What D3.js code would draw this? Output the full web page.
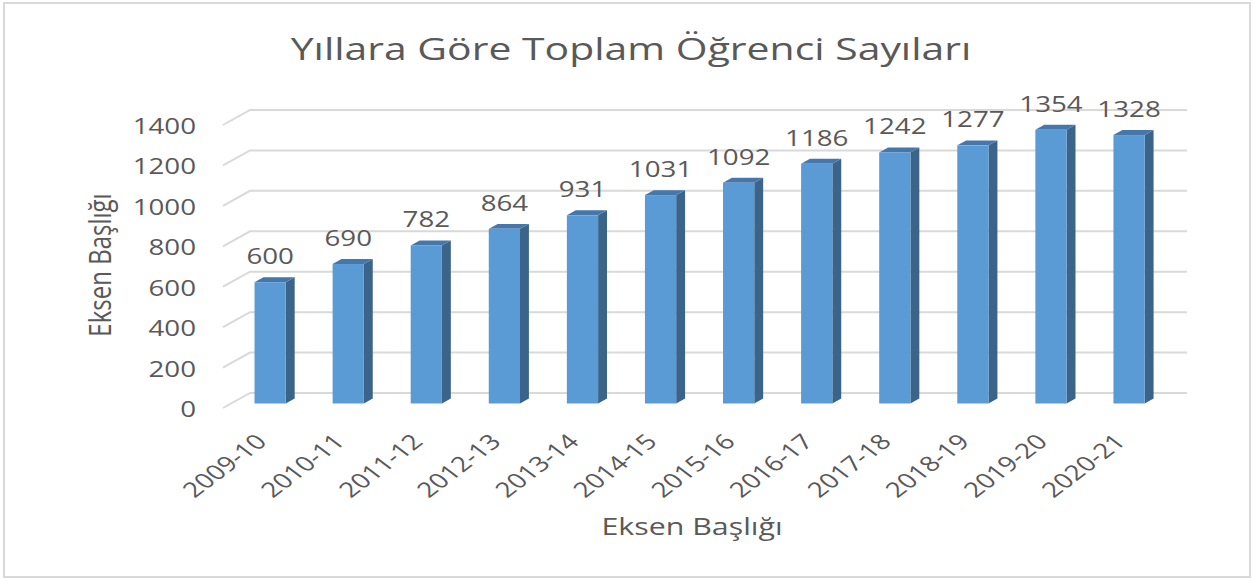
<!DOCTYPE html>
<html>
<head>
<meta charset="utf-8">
<script src="https://cdn.jsdelivr.net/npm/d3@7"></script>
<style>
  html, body { margin: 0; padding: 0; background: #fff; }
  svg text { font-family: "Open Sans", "Noto Sans", sans-serif; fill: #595959; }
</style>
</head>
<body>
<div id="chart"></div>
<script>
var years = ["2009-10", "2010-11", "2011-12", "2012-13", "2013-14", "2014-15",
  "2015-16", "2016-17", "2017-18", "2018-19", "2019-20", "2020-21"];
var students = [600, 690, 782, 864, 931, 1031, 1092, 1186, 1242, 1277, 1354, 1328];
var yTicks = [0, 200, 400, 600, 800, 1000, 1200, 1400];

var chartTitle = "Yıllara Göre Toplam Öğrenci Sayıları",
  axisTitle = "Eksen Başlığı";

var width = 1256,
  height = 579,
  sx = 1.32; // the picture is stretched sideways, text too

// back wall of the 3d box
var wall = {left: 250, right: 1187, bottom: 393, top: 110};
// full depth of the floor, and where the bars sit in it
var depth = {dx: -27, dy: 15},
  barFront = 0.7,
  barBack = 0.37;

var svg = d3.select("#chart").append("svg")
  .attr("width", width)
  .attr("height", height);

svg.append("rect")
  .attr("x", 4).attr("y", 3)
  .attr("width", 1246).attr("height", 574)
  .attr("fill", "#fff")
  .attr("stroke", "#d9d9d9")
  .attr("stroke-width", 2);

var x = d3.scaleBand()
  .domain(years)
  .range([wall.left, wall.right])
  .paddingInner(0.6)
  .paddingOuter(0.3);

var y = d3.scaleLinear()
  .domain([0, 1400])
  .range([wall.bottom, wall.top]);

// gridlines: back wall + the slanted floor edge
var grid = svg.append("g");
grid.selectAll("path")
  .data(yTicks)
  .enter().append("path")
  .attr("fill", "none")
  .attr("stroke", "#d9d9d9")
  .attr("stroke-width", 2)
  .attr("d", function (d) {
    return "M" + (wall.left + depth.dx) + "," + (y(d) + depth.dy) +
      "L" + wall.left + "," + y(d) + "H" + wall.right;
  });

// y tick labels
svg.append("g").selectAll("text")
  .data(yTicks)
  .enter().append("text")
  .attr("text-anchor", "end")
  .attr("font-size", 21)
  .attr("transform", function (d) {
    return "translate(196," + (y(d) + depth.dy + 9) + ") scale(" + sx + ",1)";
  })
  .text(function (d) { return d; });

var fx = depth.dx * barFront, fy = depth.dy * barFront,
  sdx = depth.dx * (barBack - barFront), sdy = depth.dy * (barBack - barFront);

var bars = svg.append("g").selectAll("g")
  .data(years)
  .enter().append("g")
  .attr("transform", function (d) {
    return "translate(" + (x(d) + fx) + "," + fy + ")";
  });

var bw = x.bandwidth();

bars.each(function (d, i) {
  var g = d3.select(this),
    top = y(students[i]),
    bot = y(0);
  // side
  g.append("path")
    .attr("fill", "#3a6489")
    .attr("d", "M" + bw + "," + top + "l" + sdx + "," + sdy +
      "V" + (bot + sdy) + "l" + (-sdx) + "," + (-sdy) + "Z");
  // top
  g.append("path")
    .attr("fill", "#4677ab")
    .attr("d", "M0," + top + "l" + sdx + "," + sdy + "h" + bw +
      "l" + (-sdx) + "," + (-sdy) + "Z");
  // front
  g.append("rect")
    .attr("x", 0).attr("y", top)
    .attr("width", bw).attr("height", bot - top)
    .attr("fill", "#5b9bd5");
  // value label
  g.append("text")
    .attr("text-anchor", "middle")
    .attr("font-size", 21)
    .attr("transform", "translate(" + (bw / 2) + "," + (top - 18) + ") scale(" + sx + ",1)")
    .text(students[i]);
});

// category labels
svg.append("g").selectAll("text")
  .data(years)
  .enter().append("text")
  .attr("text-anchor", "end")
  .attr("font-size", 21)
  .attr("transform", function (d) {
    return "translate(" + (x(d) + fx + bw / 2 - 2) + ",443) scale(" + sx + ",1) rotate(-45)";
  })
  .text(function (d) { return d; });

// titles
svg.append("text")
  .attr("text-anchor", "middle")
  .attr("font-size", 31)
  .attr("transform", "translate(631,60) scale(" + sx + ",1)")
  .text(chartTitle);

svg.append("text")
  .attr("text-anchor", "middle")
  .attr("font-size", 23)
  .attr("transform", "translate(692,535) scale(" + sx + ",1)")
  .text(axisTitle);

svg.append("text")
  .attr("text-anchor", "middle")
  .attr("font-size", 24)
  .attr("transform", "translate(111,265) scale(" + sx + ",1) rotate(-90)")
  .text(axisTitle);
</script>
</body>
</html>
